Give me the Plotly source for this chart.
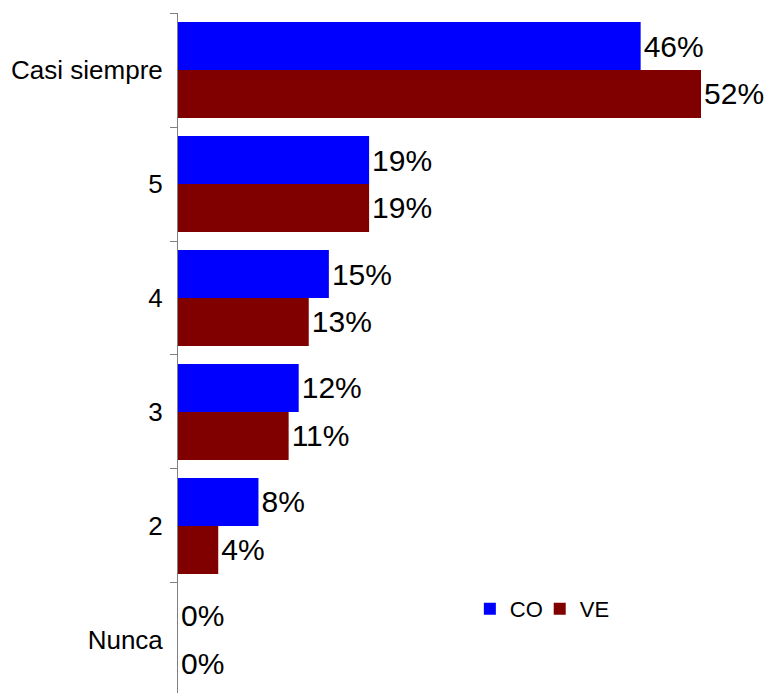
import plotly.graph_objects as go

categories = ["Casi siempre", "5", "4", "3", "2", "Nunca"]
co_values = [46, 19, 15, 12, 8, 0]
ve_values = [52, 19, 13, 11, 4, 0]

FONT = "Arial, Liberation Sans, sans-serif"

fig = go.Figure()
fig.add_trace(go.Bar(
    name="CO", y=categories, x=co_values, orientation="h",
    marker=dict(color="#0000FF", line=dict(width=0)),
    texttemplate="%{x:.0f}%", textposition="outside", cliponaxis=False,
    textfont=dict(family=FONT, size=30, color="#000000"),
    constraintext="none", legend="legend",
))
fig.add_trace(go.Bar(
    name="VE", y=categories, x=ve_values, orientation="h",
    marker=dict(color="#800000", line=dict(width=0)),
    texttemplate="%{x:.0f}%", textposition="outside", cliponaxis=False,
    textfont=dict(family=FONT, size=30, color="#000000"),
    constraintext="none", legend="legend2",
))

legend_common = dict(
    orientation="h", y=0.1235, xanchor="left", yanchor="middle",
    font=dict(family=FONT, size=22, color="#000000"),
    bgcolor="rgba(0,0,0,0)", itemwidth=30, tracegroupgap=0,
)

fig.update_layout(
    width=770, height=693,
    margin=dict(l=178, r=0, t=13, b=0, pad=0, autoexpand=False),
    paper_bgcolor="white", plot_bgcolor="white",
    barmode="group", bargap=0.158, bargroupgap=0,
    font=dict(family=FONT, color="#000000"),
    showlegend=True,
    legend=dict(x=0.493, **legend_common),
    legend2=dict(x=0.611, **legend_common),
    xaxis=dict(visible=False, range=[0, 58.86], showgrid=False, zeroline=False,
               automargin=False),
    yaxis=dict(
        type="category", range=[5.465, -0.5], automargin=False,
        showline=True, linecolor="#808080", linewidth=1,
        ticks="outside", tickson="boundaries", ticklen=7, tickcolor="#808080",
        tickfont=dict(family=FONT, size=26, color="#000000"),
        ticklabelstandoff=9, showgrid=False, zeroline=False,
    ),
)

fig.write_html(
    "out.html",
    config={"displayModeBar": False},
    post_script="document.body.style.margin='0';document.body.style.padding='0';",
)
